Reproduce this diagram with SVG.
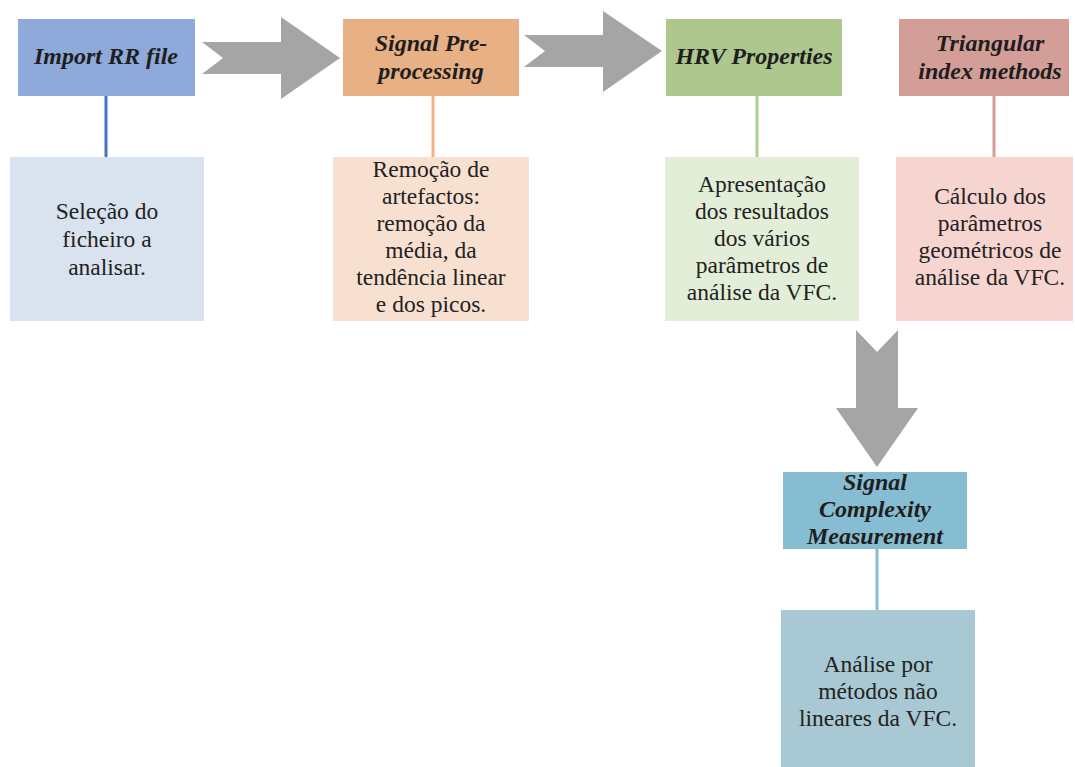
<svg xmlns="http://www.w3.org/2000/svg" width="1075" height="767" viewBox="0 0 1075 767">
<style>
.h{font-family:"Liberation Serif","Times New Roman",serif;font-size:24px;font-weight:bold;font-style:italic;fill:#1e1e1e;text-anchor:middle}
.d{font-family:"Liberation Serif","Times New Roman",serif;font-size:23.5px;fill:#222222;text-anchor:middle}
.arrow{fill:#A5A5A5}
.ln{stroke-width:3;fill:none}
</style>
<rect width="1075" height="767" fill="#ffffff"/>
<g id="connectors">
  <line class="ln" x1="106" y1="96" x2="106" y2="157" stroke="#4472C4"/>
  <line class="ln" x1="433" y1="96" x2="433" y2="157" stroke="#F4B183"/>
  <line class="ln" x1="757" y1="96" x2="757" y2="157" stroke="#A9D18E"/>
  <line class="ln" x1="994" y1="96" x2="994" y2="157" stroke="#D49C96"/>
  <line class="ln" x1="877" y1="549" x2="877" y2="610" stroke="#86BDD3"/>
  <polygon class="arrow" points="202,42 281,42 281,17 340,58 281,99 281,74 202,74 223,58"/>
  <polygon class="arrow" points="524,35 603,35 603,11 662,51 603,92 603,67 524,67 545,51"/>
  <polygon class="arrow" points="856,330 877,352 898,330 898,408 918,408 877,467 836,408 856,408"/>
</g>
<g id="import">
  <rect x="18" y="19" width="177" height="77" fill="#8EAADB"/>
  <text class="h" x="106" y="64">Import RR file</text>
</g>
<g id="import-detail">
  <rect x="10" y="157" width="194" height="164" fill="#D9E2EF"/>
  <text class="d" x="107" y="219">Seleção do</text>
  <text class="d" x="107" y="247">ficheiro a</text>
  <text class="d" x="107" y="275">analisar.</text>
</g>
<g id="preprocessing">
  <rect x="343" y="19" width="176" height="77" fill="#E8B085"/>
  <text class="h" x="431" y="51">Signal Pre-</text>
  <text class="h" x="431" y="79">processing</text>
</g>
<g id="preprocessing-detail">
  <rect x="333" y="157" width="196" height="164" fill="#F8E0D1"/>
  <text class="d" x="431" y="177">Remoção de</text>
  <text class="d" x="431" y="204">artefactos:</text>
  <text class="d" x="431" y="231">remoção da</text>
  <text class="d" x="431" y="258">média, da</text>
  <text class="d" x="431" y="285">tendência linear</text>
  <text class="d" x="431" y="312">e dos picos.</text>
</g>
<g id="hrv">
  <rect x="666" y="19" width="176" height="77" fill="#ADC78E"/>
  <text class="h" x="754" y="64">HRV Properties</text>
</g>
<g id="hrv-detail">
  <rect x="665" y="157" width="194" height="164" fill="#E3EED8"/>
  <text class="d" x="762" y="192">Apresentação</text>
  <text class="d" x="762" y="219">dos resultados</text>
  <text class="d" x="762" y="246">dos vários</text>
  <text class="d" x="762" y="273">parâmetros de</text>
  <text class="d" x="762" y="300">análise da VFC.</text>
</g>
<g id="triangular">
  <rect x="899" y="19" width="170" height="77" fill="#D39E98"/>
  <text class="h" x="990" y="51">Triangular</text>
  <text class="h" x="990" y="79">index methods</text>
</g>
<g id="triangular-detail">
  <rect x="896" y="157" width="177" height="164" fill="#F6D4D0"/>
  <text class="d" x="990" y="204">Cálculo dos</text>
  <text class="d" x="990" y="231">parâmetros</text>
  <text class="d" x="990" y="258">geométricos de</text>
  <text class="d" x="990" y="285">análise da VFC.</text>
</g>
<g id="complexity">
  <rect x="783" y="472" width="184" height="77" fill="#86BDD3"/>
  <text class="h" x="875" y="490">Signal</text>
  <text class="h" x="875" y="517">Complexity</text>
  <text class="h" x="875" y="544">Measurement</text>
</g>
<g id="complexity-detail">
  <rect x="781" y="610" width="194" height="157" fill="#A8C8D3"/>
  <text class="d" x="878" y="672">Análise por</text>
  <text class="d" x="878" y="699">métodos não</text>
  <text class="d" x="878" y="726">lineares da VFC.</text>
</g>
</svg>
